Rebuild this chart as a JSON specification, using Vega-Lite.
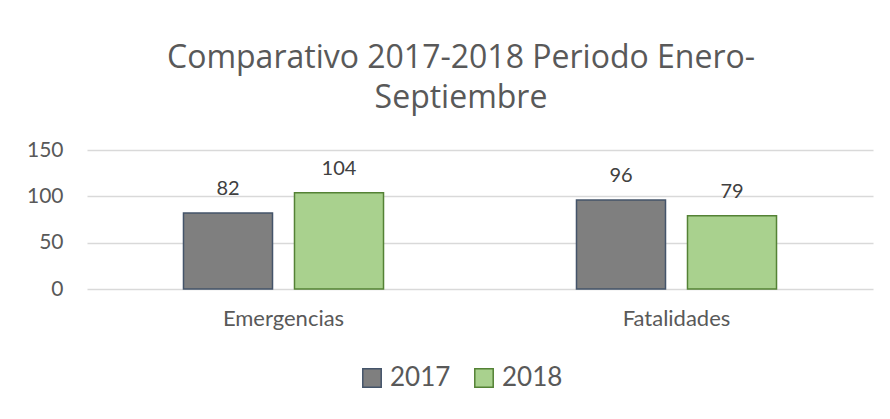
{
  "$schema": "https://vega.github.io/schema/vega-lite/v6.json",
  "autosize": {"type": "none"},
  "padding": {"left": 87, "top": 150, "right": 17, "bottom": 130},
  "width": 786,
  "height": 139,
  "background": "white",
  "title": {
    "text": ["Comparativo 2017-2018 Periodo Enero-", "Septiembre"],
    "fontSize": 32,
    "font": "Open Sans",
    "fontWeight": "normal",
    "color": "#595959",
    "lineHeight": 40,
    "anchor": "middle",
    "frame": "group",
    "dx": -19,
    "baseline": "bottom",
    "offset": -8
  },
  "data": {
    "values": [
      {"categoria": "Emergencias", "anio": "2017", "valor": 82},
      {"categoria": "Emergencias", "anio": "2018", "valor": 104},
      {"categoria": "Fatalidades", "anio": "2017", "valor": 96},
      {"categoria": "Fatalidades", "anio": "2018", "valor": 79}
    ]
  },
  "encoding": {
    "x": {
      "field": "categoria",
      "type": "nominal",
      "scale": {"paddingInner": 0.491, "paddingOuter": 0.2455},
      "axis": {
        "title": null,
        "labelAngle": 0,
        "labelFont": "Lato",
        "labelFontSize": 22,
        "labelColor": "#595959",
        "labelPadding": 19,
        "ticks": false,
        "domain": false
      }
    },
    "xOffset": {
      "field": "anio",
      "type": "nominal",
      "scale": {"paddingInner": 0.198, "paddingOuter": 0}
    },
    "y": {
      "field": "valor",
      "type": "quantitative",
      "scale": {"domain": [0, 150]},
      "axis": {
        "title": null,
        "values": [0, 50, 100, 150],
        "labelFont": "Lato",
        "labelFontSize": 21,
        "labelColor": "#595959",
        "labelPadding": 24,
        "ticks": false,
        "domain": false,
        "grid": true,
        "gridColor": "#d9d9d9",
        "gridWidth": 1.5
      }
    }
  },
  "layer": [
    {
      "mark": {"type": "bar", "strokeWidth": 1.5},
      "encoding": {
        "color": {
          "field": "anio",
          "type": "nominal",
          "scale": {"domain": ["2017", "2018"], "range": ["#7f7f7f", "#a9d18e"]},
          "legend": {
            "title": null,
            "orient": "none",
            "direction": "horizontal",
            "legendX": 272,
            "legendY": 215,
            "symbolType": "square",
            "symbolSize": 340,
            "symbolStrokeWidth": 1.5,
            "symbolOpacity": 1,
            "labelFont": "Lato",
            "labelFontSize": 26,
            "labelColor": "#595959",
            "labelOffset": 5,
            "columnPadding": 20
          }
        },
        "stroke": {
          "field": "anio",
          "type": "nominal",
          "scale": {"domain": ["2017", "2018"], "range": ["#44546a", "#548235"]},
          "legend": null
        }
      }
    },
    {
      "mark": {
        "type": "text",
        "baseline": "alphabetic",
        "dy": -18,
        "font": "Lato",
        "fontSize": 20,
        "color": "#404040"
      },
      "encoding": {
        "text": {"field": "valor", "type": "quantitative"}
      }
    }
  ],
  "config": {
    "view": {"stroke": null}
  }
}
